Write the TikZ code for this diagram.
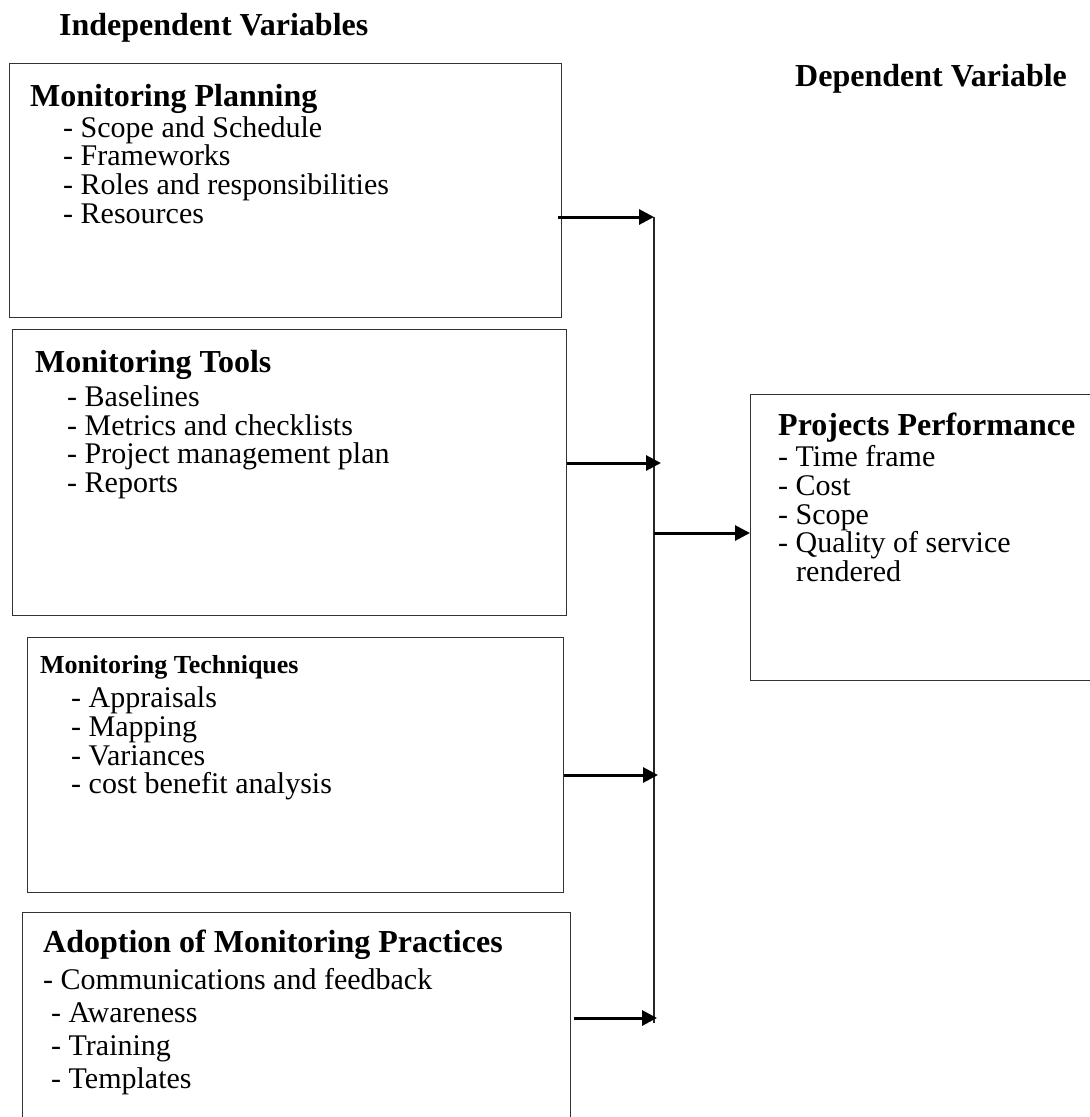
\documentclass[tikz,border=0pt]{standalone}
\usepackage{fontspec}
\setmainfont{Liberation Serif}
\usetikzlibrary{arrows.meta}
\begin{document}
\begin{tikzpicture}[x=1bp,y=-1bp,
  frame/.style={draw=black!80, line width=1.4bp, inner sep=0pt, anchor=north west},
  head/.style={anchor=base west, inner sep=0pt, font=\fontsize{32bp}{36bp}\selectfont\bfseries},
  smallhead/.style={head, font=\fontsize{26bp}{30bp}\selectfont\bfseries},
  entry/.style={anchor=base west, inner sep=0pt, font=\fontsize{30bp}{33bp}\selectfont},
  link/.style={line width=3bp, -{Triangle[length=15bp,width=15bp]}},
  bus/.style={line width=1.5bp, draw=black!85}]
\useasboundingbox (0,0) rectangle (1090,1117);

% column titles
\node[head] (indep) at (59,35) {Independent Variables};
\node[head] (dep) at (795,86) {Dependent Variable};

% boxes
\node[frame, minimum width=552bp, minimum height=254bp] (plan) at (9,63) {};
\node[frame, minimum width=554bp, minimum height=286bp] (tools) at (12,329) {};
\node[frame, minimum width=536bp, minimum height=255bp] (tech) at (27,637) {};
\node[frame, minimum width=548bp, minimum height=230bp] (adopt) at (22,912) {};
\node[frame, minimum width=345bp, minimum height=286bp] (perf) at (750,394) {};

% monitoring planning
\node[head] (planh) at (30,106) {Monitoring Planning};
\node[entry] (plan1) at (63,137) {- Scope and Schedule};
\node[entry] (plan2) at (63,165) {- Frameworks};
\node[entry] (plan3) at (63,194) {- Roles and responsibilities};
\node[entry] (plan4) at (63,223) {- Resources};

% monitoring tools
\node[head] (toolsh) at (35,372) {Monitoring Tools};
\node[entry] (tools1) at (67,406) {- Baselines};
\node[entry] (tools2) at (67,435) {- Metrics and checklists};
\node[entry] (tools3) at (67,463) {- Project management plan};
\node[entry] (tools4) at (67,492) {- Reports};

% monitoring techniques
\node[smallhead] (techh) at (40,673) {Monitoring Techniques};
\node[entry] (tech1) at (71,707) {- Appraisals};
\node[entry] (tech2) at (71,736) {- Mapping};
\node[entry] (tech3) at (71,765) {- Variances};
\node[entry] (tech4) at (71,793) {- cost benefit analysis};

% adoption of practices
\node[head] (adopth) at (43,952) {Adoption of Monitoring Practices};
\node[entry] (adopt1) at (43,989) {- Communications and feedback};
\node[entry] (adopt2) at (51,1022) {- Awareness};
\node[entry] (adopt3) at (51,1055) {- Training};
\node[entry] (adopt4) at (51,1088) {- Templates};

% project performance
\node[head] (perfh) at (778,435) {Projects Performance};
\node[entry] (perf1) at (778,466) {- Time frame};
\node[entry] (perf2) at (778,495) {- Cost};
\node[entry] (perf3) at (778,524) {- Scope};
\node[entry] (perf4) at (778,552) {- Quality of service};
\node[entry] (perf5) at (796,581) {rendered};

% collecting line and arrows
\coordinate (bustop) at (654,217);
\coordinate (busbot) at (654,1023);
\coordinate (j0) at (654,533);
\coordinate (j2) at (661,463);
\coordinate (j3) at (658,775);
\coordinate (j4) at (657,1018);
\draw[bus] (bustop) -- (busbot);
\draw[link] ([xshift=-4bp]plan.east |- bustop) -- (bustop);
\draw[link] (tools.east |- j2) -- (j2);
\draw[link] (tech.east |- j3) -- (j3);
\draw[link] ([xshift=3bp]adopt.east |- j4) -- (j4);
\draw[link] (j0) -- (perf.west |- j0);
\end{tikzpicture}
\end{document}
